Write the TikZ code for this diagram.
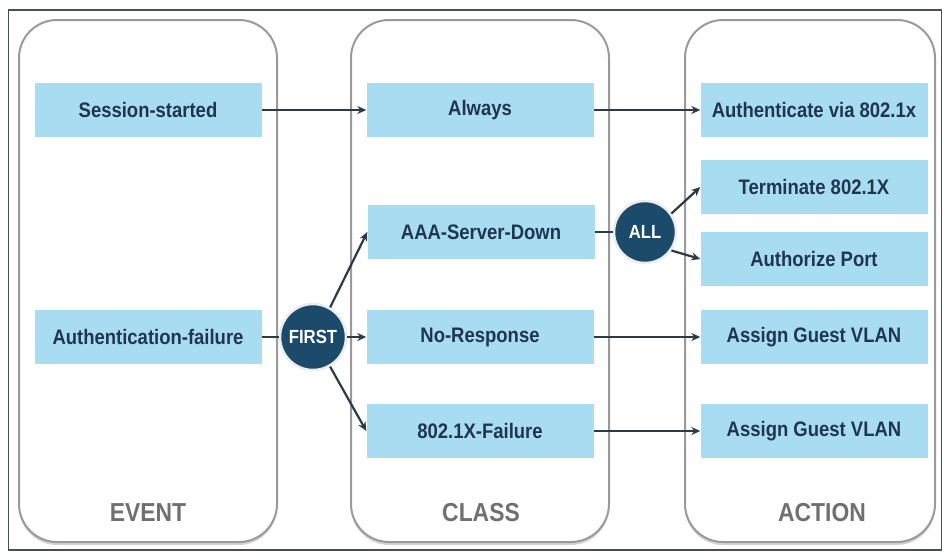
\documentclass[tikz,border=0pt]{standalone}
\usepackage{fontspec}
\setmainfont{Liberation Sans}[FakeStretch=0.88]
\usetikzlibrary{shadows,arrows.meta}
\definecolor{boxblue}{HTML}{A8DCF0}
\definecolor{navy}{HTML}{1B4A6B}
\definecolor{txt}{HTML}{1F3550}
\definecolor{arr}{HTML}{2A3A4A}
\definecolor{panelgray}{HTML}{9A9A9A}
\definecolor{lblgray}{HTML}{707070}
\tikzset{
  panel/.style={draw=panelgray, line width=2pt, rounded corners=38pt, fill=white,
    drop shadow={shadow xshift=0pt, shadow yshift=-3pt, opacity=0.35, fill=gray}},
  bluebox/.style={fill=boxblue, draw=none, minimum width=227pt, minimum height=54pt,
    inner sep=0pt, text=txt, font=\fontsize{21}{24}\selectfont\bfseries},
  gate/.style={circle, fill=navy, draw=white!85!gray, line width=2.5pt, minimum size=66pt,
    inner sep=0pt, text=white, font=\fontsize{19}{21}\selectfont\bfseries},
  conn/.style={draw=arr, line width=2.2pt},
  arrow/.style={conn, -{Stealth[length=9pt,width=8pt]}},
  plabel/.style={text=lblgray, font=\fontsize{26}{30}\selectfont\bfseries}
}
\begin{document}
\begin{tikzpicture}[x=1pt,y=-1pt]
\useasboundingbox (0,0) rectangle (950,555);
\node[draw=arr!70!gray, line width=1.5pt, minimum width=933pt, minimum height=540pt, inner sep=0pt] (frame) at (475,280) {};
% panels
\node[panel, minimum width=258pt, minimum height=522pt] (pev) at (148,281) {};
\node[panel, minimum width=258pt, minimum height=522pt] (pcl) at (480,281) {};
\node[panel, minimum width=250pt, minimum height=522pt] (pac) at (810,281) {};
\node[plabel] (lev) at (148,513) {EVENT};
\node[plabel] (lcl) at (481,513) {CLASS};
\node[plabel] (lac) at (822,513) {ACTION};
% event boxes
\node[bluebox] (ss) at (148,110) {Session-started};
\node[bluebox] (af) at (148,337) {Authentication-failure};
% class boxes
\node[bluebox] (al) at (480,110) {Always};
\node[bluebox] (aaa) at (481,232) {AAA-Server-Down};
\node[bluebox] (nr) at (480,337) {No-Response};
\node[bluebox] (fx) at (480,431) {802.1X-Failure};
% action boxes
\node[bluebox] (auth) at (814,110) {Authenticate via 802.1x};
\node[bluebox] (term) at (814,187) {Terminate 802.1X};
\node[bluebox] (port) at (814,259) {Authorize Port};
\node[bluebox] (gv1) at (814,337) {Assign Guest VLAN};
\node[bluebox] (gv2) at (814,431) {Assign Guest VLAN};
% gates
\node[gate] (first) at (313,337) {FIRST};
\node[gate, minimum size=62pt] (all) at (645,232) {ALL};
% connectors
\draw[arrow] (ss) -- (al);
\draw[arrow] (al) -- (auth);
\draw[conn] (af) -- (first);
\draw[arrow] (first) -- (nr);
\draw[arrow] (first.60) -- (aaa.west);
\draw[arrow] (first.-60) -- (fx.west);
\draw[conn] (aaa) -- (all);
\draw[arrow] (all.35) -- (term.west);
\draw[arrow] (all.-35) -- (port.west);
\draw[arrow] (nr) -- (gv1);
\draw[arrow] (fx) -- (gv2);
\end{tikzpicture}
\end{document}
